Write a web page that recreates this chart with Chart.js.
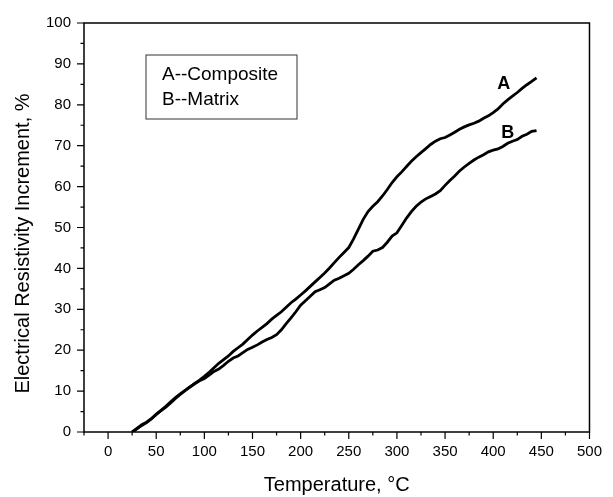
<!DOCTYPE html>
<html><head><meta charset="utf-8">
<script src="https://cdn.jsdelivr.net/npm/chart.js@4/dist/chart.umd.min.js"></script>
<style>html,body{margin:0;padding:0;background:#fff;}canvas{display:block;}</style>
</head><body>
<canvas id="c" width="613" height="497"></canvas>
<script>
const temperatures = [25,30,35,40,45,50,55,60,65,70,75,80,85,90,95,100,105,110,115,120,125,130,135,140,145,150,155,160,165,170,175,180,185,190,195,200,205,210,215,220,225,230,235,240,245,250,255,260,265,270,275,280,285,290,295,300,305,310,315,320,325,330,335,340,345,350,355,360,365,370,375,380,385,390,395,400,405,410,415,420,425,430,435,440,445];
const compositeA = [0,0.8,1.6,2.3,3.2,4.3,5.3,6.3,7.4,8.4,9.3,10.2,11.0,11.9,12.7,13.6,14.6,15.7,16.8,17.7,18.6,19.7,20.6,21.5,22.6,23.7,24.7,25.6,26.5,27.6,28.5,29.4,30.5,31.6,32.5,33.5,34.5,35.6,36.7,37.8,38.9,40.1,41.4,42.7,43.9,45.1,47.2,49.6,52.0,53.9,55.2,56.3,57.7,59.3,61.0,62.4,63.6,64.9,66.2,67.3,68.3,69.3,70.3,71.1,71.7,72.0,72.6,73.3,74.0,74.6,75.1,75.5,76.0,76.7,77.3,78.1,79.0,80.2,81.2,82.1,83.0,84.0,84.9,85.7,86.6];
const matrixB = [0,0.9,1.8,2.4,3.3,4.3,5.2,6.1,7.1,8.2,9.2,10.1,11.0,11.8,12.5,13.1,13.9,14.8,15.4,16.3,17.3,18.1,18.6,19.4,20.2,20.7,21.3,22.0,22.6,23.1,23.8,25.0,26.5,27.9,29.4,31.0,32.1,33.2,34.3,34.8,35.3,36.2,37.1,37.6,38.2,38.8,39.8,40.9,41.9,43.0,44.2,44.5,45.1,46.4,47.9,48.7,50.5,52.3,53.9,55.2,56.2,57.0,57.6,58.2,59.0,60.3,61.5,62.6,63.8,64.8,65.7,66.5,67.2,67.8,68.5,68.9,69.2,69.8,70.6,71.1,71.5,72.3,72.8,73.5,73.7];
const xMajorTicks = [0,50,100,150,200,250,300,350,400,450,500];
const xMinorTicks = [-25,25,75,125,175,225,275,325,375,425,475];
const yMajorTicks = [0,10,20,30,40,50,60,70,80,90,100];
const yMinorTicks = [5,15,25,35,45,55,65,75,85,95];
const xTitle = 'Temperature, °C';
const yTitle = 'Electrical Resistivity Increment, %';
const legendLines = ['A--Composite','B--Matrix'];
const curveLabels = [{text:'A', x:411, y:85.2},{text:'B', x:415, y:73.0}];

const FONT = '"Liberation Sans", Arial, sans-serif';

const decor = {
  id:'decor',
  afterDraw(chart){
    const ctx = chart.ctx, a = chart.chartArea;
    const xs = chart.scales.x, ys = chart.scales.y;
    ctx.save();
    ctx.strokeStyle = '#000';
    ctx.lineWidth = 1.5;
    ctx.strokeRect(a.left, a.top, a.right - a.left, a.bottom - a.top);
    ctx.lineWidth = 1.2;
    ctx.beginPath();
    xMajorTicks.forEach(v=>{const p=xs.getPixelForValue(v); ctx.moveTo(p,a.bottom); ctx.lineTo(p,a.bottom+7);});
    xMinorTicks.forEach(v=>{const p=xs.getPixelForValue(v); ctx.moveTo(p,a.bottom); ctx.lineTo(p,a.bottom+3.5);});
    yMajorTicks.forEach(v=>{const p=ys.getPixelForValue(v); ctx.moveTo(a.left,p); ctx.lineTo(a.left-7,p);});
    yMinorTicks.forEach(v=>{const p=ys.getPixelForValue(v); ctx.moveTo(a.left,p); ctx.lineTo(a.left-3.5,p);});
    ctx.stroke();
    // y axis title
    ctx.fillStyle = '#000';
    ctx.font = '20px ' + FONT;
    ctx.textAlign = 'center';
    ctx.textBaseline = 'middle';
    ctx.save();
    ctx.translate(23, (a.top + a.bottom) / 2 + 16);
    ctx.rotate(-Math.PI/2);
    ctx.fillText(yTitle, 0, 0);
    ctx.restore();
    // legend box
    const bx = a.left + 62, by = a.top + 32, bw = 151, bh = 64;
    ctx.lineWidth = 1;
    ctx.strokeStyle = '#333';
    ctx.strokeRect(bx, by, bw, bh);
    ctx.font = '19px ' + FONT;
    ctx.textAlign = 'left';
    legendLines.forEach((t,i)=>ctx.fillText(t, bx + 16, by + 20 + i*25));
    ctx.font = 'bold 18px ' + FONT;
    ctx.textAlign = 'center';
    curveLabels.forEach(l=>ctx.fillText(l.text, xs.getPixelForValue(l.x), ys.getPixelForValue(l.y)));
    ctx.restore();
  }
};

new Chart(document.getElementById('c'), {
  type:'scatter',
  data:{
    datasets:[
      {label:'A--Composite', data: temperatures.map((t,i)=>({x:t,y:compositeA[i]})), showLine:true, borderColor:'#000', borderWidth:2.8, pointRadius:0, tension:0},
      {label:'B--Matrix', data: temperatures.map((t,i)=>({x:t,y:matrixB[i]})), showLine:true, borderColor:'#000', borderWidth:2.8, pointRadius:0, tension:0}
    ]
  },
  options:{
    responsive:false, animation:false, devicePixelRatio:1,
    layout:{padding:{top:23,right:21,left:0,bottom:0}},
    plugins:{legend:{display:false}, tooltip:{enabled:false}},
    scales:{
      x:{type:'linear', min:-25, max:500,
        afterBuildTicks(s){ s.ticks = xMajorTicks.map(v=>({value:v})); },
        afterFit(s){ s.height = 65; },
        grid:{display:false, drawTicks:false}, border:{display:false},
        ticks:{color:'#000', font:{family:FONT, size:15}, padding:11, maxRotation:0, autoSkip:false},
        title:{display:true, text:xTitle, color:'#000', font:{family:FONT, size:20}, padding:{top:0,bottom:0}}
      },
      y:{type:'linear', min:0, max:100,
        afterBuildTicks(s){ s.ticks = yMajorTicks.map(v=>({value:v})); },
        afterFit(s){ s.width = 84; },
        grid:{display:false, drawTicks:false}, border:{display:false},
        ticks:{color:'#000', font:{family:FONT, size:15}, padding:13, autoSkip:false},
        title:{display:false, text:yTitle}
      }
    }
  },
  plugins:[decor]
});
</script>
</body></html>
